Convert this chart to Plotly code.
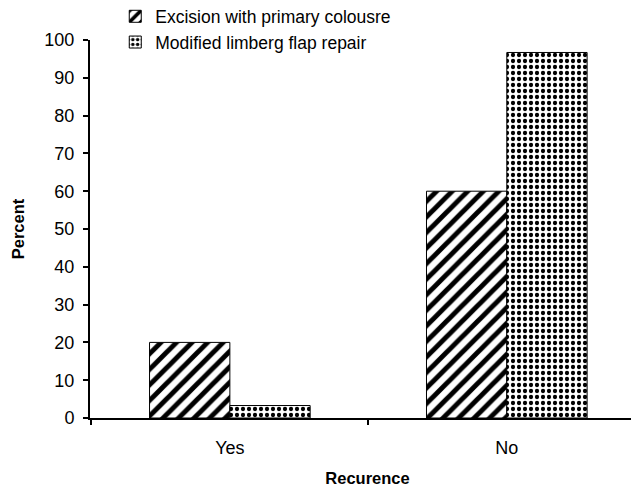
import plotly.graph_objects as go

categories = ["Yes", "No"]
excision = [20, 60]
limberg = [3.3, 96.7]
series_names = ["Excision with primary colousre", "Modified limberg flap repair"]

fig = go.Figure()
fig.add_trace(go.Bar(
    x=categories, y=excision, name=series_names[0],
    marker=dict(color="white", line=dict(color="black", width=1),
                pattern=dict(shape="/", fgcolor="#000000", bgcolor="white", size=11, solidity=0.45,
                             fgopacity=1, fillmode="replace")),
))
fig.add_trace(go.Bar(
    x=categories, y=limberg, name=series_names[1],
    marker=dict(color="white", line=dict(color="black", width=1),
                pattern=dict(shape=".", fgcolor="#000000", bgcolor="white", size=6, solidity=0.4,
                             fgopacity=1, fillmode="replace")),
))

font = "Liberation Sans, Arial, sans-serif"
fig.update_layout(
    width=639, height=487,
    margin=dict(l=82, r=2, t=32, b=77, autoexpand=False),
    paper_bgcolor="white", plot_bgcolor="white",
    barmode="group", bargap=0.42, bargroupgap=0,
    font=dict(family=font, size=18, color="black"),
    showlegend=True,
    legend=dict(x=0.0455, y=1.11, xanchor="left", yanchor="top",
                font=dict(size=17.5, family=font), bgcolor="rgba(0,0,0,0)",
                itemwidth=30, tracegroupgap=0, traceorder="normal"),
    xaxis=dict(type="category", range=[-0.505, 1.499], showline=True, linecolor="black", linewidth=2,
               ticks="outside", ticklen=5, tickwidth=1.5, tickcolor="black", tickson="boundaries",
               ticklabelstandoff=12,
               showgrid=False, zeroline=False,
               title=dict(text="<b>Recurence</b>", font=dict(size=16.5, family=font), standoff=16),
               tickfont=dict(size=18)),
    yaxis=dict(range=[0, 100], dtick=10, showline=True, linecolor="black", linewidth=2,
               ticks="outside", ticklen=5, tickwidth=1.5, tickcolor="black",
               ticklabelstandoff=5,
               showgrid=False, zeroline=False,
               title=dict(text="<b>Percent</b>", font=dict(size=16.5, family=font), standoff=16),
               tickfont=dict(size=18)),
)
fig.write_html("out.html")
